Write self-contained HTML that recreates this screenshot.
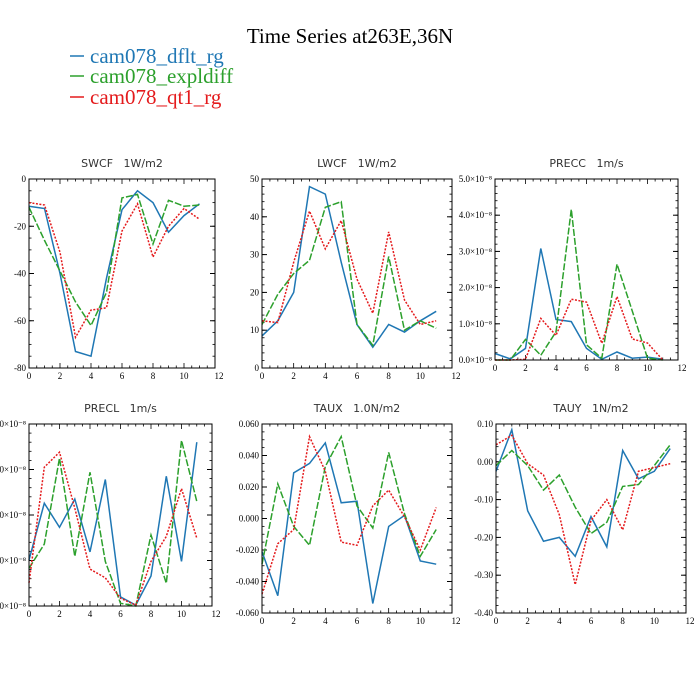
<!DOCTYPE html>
<html><head><meta charset="utf-8"><style>
body{margin:0;background:#fff;}
svg{display:block;}
.tk{font-family:"Liberation Serif",serif;font-size:9px;fill:#000;}
.tt{font-family:"DejaVu Sans","Liberation Sans",sans-serif;font-size:11px;fill:#333;white-space:pre;}
</style></head><body>
<svg id="c" width="700" height="700" viewBox="0 0 700 700" xmlns="http://www.w3.org/2000/svg">
<text x="350" y="43" text-anchor="middle" font-family="Liberation Serif,serif" font-size="21">Time Series at263E,36N</text>
<g>
<line x1="70" y1="56" x2="84" y2="56" stroke="#1f77b4" stroke-width="1.5"/>
<text x="90" y="63" fill="#1f77b4" font-family="Liberation Serif,serif" font-size="21">cam078_dflt_rg</text>
<line x1="70" y1="76" x2="84" y2="76" stroke="#2ca02c" stroke-width="1.5"/>
<text x="90" y="83" fill="#2ca02c" font-family="Liberation Serif,serif" font-size="21">cam078_expldiff</text>
<line x1="70" y1="97" x2="84" y2="97" stroke="#e41a1c" stroke-width="1.5"/>
<text x="90" y="104" fill="#e41a1c" font-family="Liberation Serif,serif" font-size="21">cam078_qt1_rg</text>
</g>
</svg>
<script>
const months=[0,1,2,3,4,5,6,7,8,9,10,11];
const xTicks=[0,2,4,6,8,10,12];
const swcfDflt=[-11.5,-12.5,-40,-73,-75,-42,-13,-5,-10,-22.5,-15.5,-10.5];
const swcfExpl=[-12,-26,-39,-52,-62,-48,-8,-6.5,-27.5,-9,-11.5,-11];
const swcfQt1=[-10,-11,-31,-67,-55.5,-54.5,-22,-10.5,-33,-20,-12.5,-17];
const swcfTicks=[0,-20,-40,-60,-80];
const lwcfDflt=[8.5,12.5,20,48,46,28,11.5,5.5,11.5,9.5,12.5,15];
const lwcfExpl=[11.5,19.5,25,28.5,42.5,44,11.5,6,29.5,10,12.5,10.5];
const lwcfQt1=[12.5,12,28,41.5,31.5,39,23.5,14.5,36,18,11.5,12.5];
const lwcfTicks=[0,10,20,30,40,50];
const preccDflt=[0.18,0.03,0.32,3.08,1.12,1.06,0.32,0.02,0.22,0.05,0.08,0.02];
const preccExpl=[0,0,0.57,0.13,0.78,4.16,0.42,0.05,2.65,1.35,0.05,0];
const preccQt1=[0,0,0.02,1.15,0.68,1.68,1.6,0.46,1.75,0.58,0.47,0];
const preccTicks=[0,1,2,3,4,5];
const preclDflt=[1.01,2.26,1.73,2.35,1.19,2.78,0.2,0.02,0.66,2.85,0.98,3.6];
const preclExpl=[0.83,1.36,3.25,1.09,2.94,0.98,0.06,0,1.56,0.5,3.64,2.3];
const preclQt1=[0.51,3.05,3.38,2.15,0.81,0.62,0.17,0.02,0.98,1.53,2.58,1.49];
const preclTicks=[0,1,2,3,4];
const tauxDflt=[-0.021,-0.049,0.029,0.035,0.048,0.010,0.011,-0.054,-0.005,0.002,-0.027,-0.029];
const tauxExpl=[-0.029,0.022,-0.005,-0.017,0.033,0.052,0.008,-0.006,0.042,0.003,-0.024,-0.007];
const tauxQt1=[-0.048,-0.016,-0.007,0.052,0.030,-0.015,-0.017,0.008,0.018,0.001,-0.020,0.007];
const tauxTicks=[-0.06,-0.04,-0.02,0,0.02,0.04,0.06];
const tauyDflt=[-0.025,0.085,-0.13,-0.21,-0.20,-0.25,-0.145,-0.225,0.03,-0.045,-0.025,0.035];
const tauyExpl=[-0.01,0.03,-0.01,-0.075,-0.035,-0.12,-0.19,-0.16,-0.065,-0.06,-0.01,0.045];
const tauyQt1=[0.045,0.07,-0.005,-0.035,-0.14,-0.325,-0.155,-0.10,-0.18,-0.025,-0.015,-0.005];
const tauyTicks=[-0.4,-0.3,-0.2,-0.1,0,0.1];

const NS='http://www.w3.org/2000/svg';
const svg=document.getElementById('c');
function mk(tag,attrs,parent){const e=document.createElementNS(NS,tag);for(const k in attrs)e.setAttribute(k,attrs[k]);(parent||svg).appendChild(e);return e;}
const sci=v=>v.toFixed(1)+'\u00d710\u207b\u2078';
const panels=[
 {id:'swcf',title:'SWCF   1W/m2',x:29,y:179,w:186,h:189,min:-80,max:0,ticks:swcfTicks,minor:5,fmt:v=>String(v),s:[swcfDflt,swcfExpl,swcfQt1]},
 {id:'lwcf',title:'LWCF   1W/m2',x:262,y:179,w:190,h:189,min:0,max:50,ticks:lwcfTicks,minor:2,fmt:v=>String(v),s:[lwcfDflt,lwcfExpl,lwcfQt1]},
 {id:'precc',title:'PRECC   1m/s',x:495,y:179,w:183,h:181,min:0,max:5,ticks:preccTicks,minor:0.2,fmt:sci,s:[preccDflt,preccExpl,preccQt1]},
 {id:'precl',title:'PRECL   1m/s',x:29,y:424,w:183,h:182,min:0,max:4,ticks:preclTicks,minor:0.2,fmt:sci,s:[preclDflt,preclExpl,preclQt1]},
 {id:'taux',title:'TAUX   1.0N/m2',x:262,y:424,w:190,h:189,min:-0.06,max:0.06,ticks:tauxTicks,minor:0.005,fmt:v=>v.toFixed(3),s:[tauxDflt,tauxExpl,tauxQt1]},
 {id:'tauy',title:'TAUY   1N/m2',x:496,y:424,w:190,h:189,min:-0.4,max:0.1,ticks:tauyTicks,minor:0.02,fmt:v=>v.toFixed(2),s:[tauyDflt,tauyExpl,tauyQt1]}
];
const colors=['#1f77b4','#2ca02c','#e41a1c'];
const dashes=['none','7,2','2,1.5'];
const sNames=['dflt','expldiff','qt1'];
panels.forEach(p=>{
 const g=mk('g',{});
 
 
 const xs=v=>p.x+v/12*p.w;
 const ys=v=>p.y+p.h-(v-p.min)/(p.max-p.min)*p.h;
 const t=mk('text',{x:p.x+p.w/2,y:p.y-12,'text-anchor':'middle',class:'tt'},g);t.textContent=p.title;
 
 
 for(let v=0;v<=12.001;v+=0.5){const L=(Math.abs(v%2)<1e-6)?5:2.5;
  mk('line',{x1:xs(v),x2:xs(v),y1:p.y+p.h,y2:p.y+p.h-L,stroke:'#000','stroke-width':0.8},g);
  mk('line',{x1:xs(v),x2:xs(v),y1:p.y,y2:p.y+L,stroke:'#000','stroke-width':0.8},g);}
 const nMin=Math.round((p.max-p.min)/p.minor);
 for(let i=0;i<=nMin;i++){const v=p.min+i*p.minor;
  mk('line',{x1:p.x,x2:p.x+2.5,y1:ys(v),y2:ys(v),stroke:'#000','stroke-width':0.8},g);
  mk('line',{x1:p.x+p.w,x2:p.x+p.w-2.5,y1:ys(v),y2:ys(v),stroke:'#000','stroke-width':0.8},g);}
 p.ticks.forEach(v=>{
  mk('line',{x1:p.x,x2:p.x+5,y1:ys(v),y2:ys(v),stroke:'#000','stroke-width':1},g);
  mk('line',{x1:p.x+p.w,x2:p.x+p.w-5,y1:ys(v),y2:ys(v),stroke:'#000','stroke-width':1},g);
  const l=mk('text',{x:p.x-3,y:ys(v)+3,'text-anchor':'end',class:'tk'},g);l.textContent=p.fmt(v);
  
  
 });
 xTicks.forEach(v=>{
  const l=mk('text',{x:xs(v)+(v===12?4:0),y:p.y+p.h+11,'text-anchor':'middle',class:'tk'},g);l.textContent=v;
  
  
 });
 p.s.forEach((arr,i)=>{
  const pts=arr.map((v,j)=>xs(months[j]).toFixed(1)+','+ys(v).toFixed(1)).join(' ');
  const pl=mk('polyline',{points:pts,fill:'none',stroke:colors[i],'stroke-width':1.5,'stroke-dasharray':dashes[i]},g);
  
  
 });
 const fr=mk('rect',{x:p.x,y:p.y,width:p.w,height:p.h,fill:'none',stroke:'#000','stroke-width':1},g);
 
 
});
</script>
</body></html>
